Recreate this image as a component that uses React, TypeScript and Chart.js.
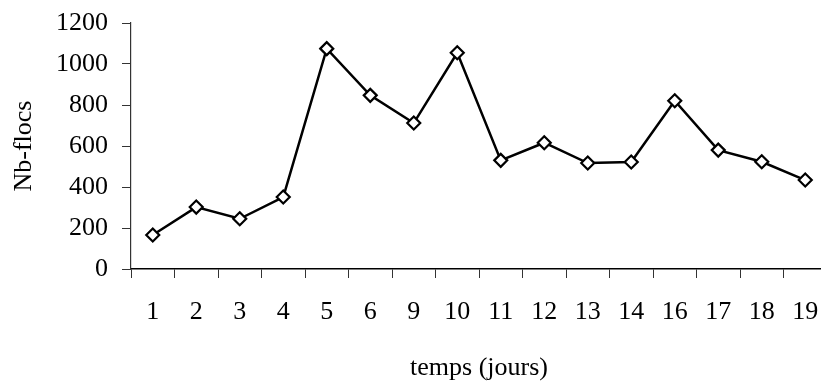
import React, { useEffect, useRef } from "react";
import { Chart, registerables } from "chart.js";

Chart.register(...registerables);

const categories = ["1", "2", "3", "4", "5", "6", "9", "10", "11", "12", "13", "14", "16", "17", "18", "19"];
const nbFlocs = [166, 302, 245, 351, 1075, 847, 712, 1055, 530, 616, 517, 522, 821, 580, 523, 434];
const yTicks = [0, 200, 400, 600, 800, 1000, 1200];
const xTitle = "temps (jours)";
const yTitle = "Nb-flocs";

const FONT = "'Liberation Serif', 'DejaVu Serif', serif";
const FS = 26;

export default function App() {
  const ref = useRef<HTMLCanvasElement | null>(null);
  useEffect(() => {
    const ctx = ref.current;
    if (!ctx) return;
    const chart = new Chart(ctx, {
      type: "line",
      data: {
        labels: categories,
        datasets: [
          {
            data: nbFlocs,
            borderColor: "#000000",
            borderWidth: 2.5,
            pointStyle: "rectRot",
            pointRadius: 6.5,
            pointBorderWidth: 2.2,
            pointBackgroundColor: "#ffffff",
            pointBorderColor: "#000000",
            tension: 0,
          },
        ],
      },
      options: {
        animation: false,
        responsive: false,
        maintainAspectRatio: false,
        layout: { padding: { top: 23, right: 13, left: 9, bottom: 0 } },
        plugins: { legend: { display: false }, tooltip: { enabled: false } },
        scales: {
          x: {
            type: "category",
            offset: true,
            afterFit: (s: any) => {
              s.height = 116;
              s.paddingLeft = 0;
              s.paddingRight = 0;
            },
            grid: {
              offset: true,
              drawOnChartArea: false,
              drawTicks: true,
              tickLength: 9,
              color: "#333333",
              lineWidth: 1,
            },
            border: { color: "#000000", width: 1.5 },
            ticks: {
              autoSkip: false,
              maxRotation: 0,
              color: "#000000",
              padding: 19,
              font: { family: FONT, size: FS },
            },
            title: {
              display: true,
              text: xTitle,
              color: "#000000",
              padding: { top: 0, bottom: 1 },
              font: { family: FONT, size: FS },
            },
          },
          y: {
            min: 0,
            max: 1200,
            afterBuildTicks: (axis: any) => {
              axis.ticks = yTicks.map((v) => ({ value: v }));
            },
            afterFit: (s: any) => {
              s.width = 122;
              s.paddingTop = 0;
              s.paddingBottom = 0;
            },
            grid: {
              drawOnChartArea: false,
              drawTicks: true,
              tickLength: 9,
              color: "#333333",
              lineWidth: 1,
            },
            border: { color: "#333333", width: 1.2 },
            ticks: {
              color: "#000000",
              padding: 14,
              callback: (v: any) => String(v),
              font: { family: FONT, size: FS },
            },
            title: {
              display: true,
              text: yTitle,
              color: "#000000",
              padding: { top: 0, bottom: 0 },
              font: { family: FONT, size: FS },
            },
          },
        },
      },
    });
    return () => chart.destroy();
  }, []);
  return (
    <div style={{ position: "fixed", left: 0, top: 0, width: 840, height: 385, background: "#ffffff" }}>
      <canvas ref={ref} width={840} height={385} style={{ width: 840, height: 385 }} />
    </div>
  );
}
